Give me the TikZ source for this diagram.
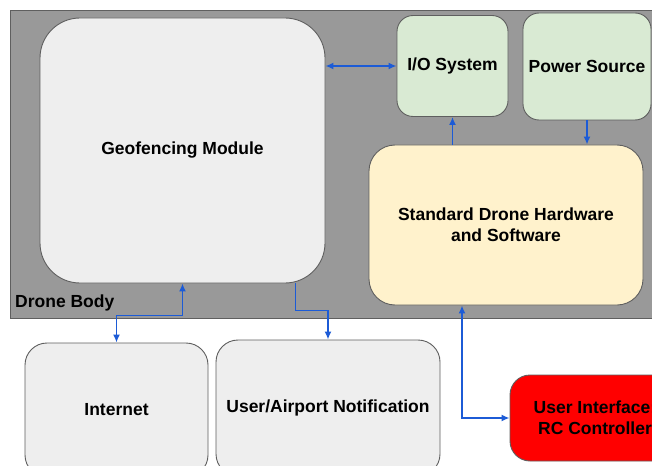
\documentclass[tikz,border=0pt]{standalone}
\usepackage{fontspec}
\setmainfont{Liberation Sans}
\usetikzlibrary{arrows.meta}
\definecolor{bodygrey}{HTML}{999999}
\definecolor{boxgrey}{HTML}{EEEEEE}
\definecolor{boxgreen}{HTML}{D9EAD3}
\definecolor{boxyellow}{HTML}{FFF2CC}
\definecolor{edgegrey}{HTML}{5F5F5F}
\definecolor{linkblue}{HTML}{1C5BD6}
\tikzset{
  blk/.style={draw=edgegrey, line width=0.9pt, align=center, inner sep=0pt,
    font=\fontsize{17.5}{21}\selectfont\bfseries},
  link/.style={draw=linkblue, line width=1.8pt},
  tip/.style={-{Latex[length=8pt,width=7pt]}},
  tips/.style={{Latex[length=8pt,width=7pt]}-{Latex[length=8pt,width=7pt]}},
}
\begin{document}
\begin{tikzpicture}[x=1pt,y=-1pt]
\useasboundingbox (0,0) rectangle (652,465);
\clip (0,0) rectangle (652,465);
\fill[white] (0,0) rectangle (652,465);
% drone body
\node[draw=edgegrey, fill=bodygrey, line width=0.9pt, minimum width=700pt, minimum height=308pt, inner sep=0pt, anchor=north west] (body) at (10,10) {};
\node[anchor=west, inner sep=0pt, font=\fontsize{17.5}{21}\selectfont\bfseries] (bodylabel) at (15,303) {Drone Body};
% blocks
\node[blk, fill=boxgrey, rounded corners=40pt, minimum width=285pt, minimum height=265pt] (geo) at (182.5,150.5) {Geofencing Module};
\node[blk, fill=boxgreen, rounded corners=16pt, minimum width=111pt, minimum height=101pt] (io) at (452.5,66) {I/O System};
\node[blk, fill=boxgreen, rounded corners=16pt, minimum width=128pt, minimum height=107pt] (power) at (587,66.5) {Power Source};
\node[blk, fill=boxyellow, rounded corners=26pt, minimum width=274pt, minimum height=160pt] (std) at (506,225) {Standard Drone Hardware\\and Software};
\node[blk, fill=boxgrey, rounded corners=22pt, minimum width=183pt, minimum height=134pt] (inet) at (116.5,410) {Internet};
\node[blk, fill=boxgrey, rounded corners=22pt, minimum width=224pt, minimum height=136pt] (notif) at (328,408) {User/Airport Notification};
\node[blk, fill=red, rounded corners=20pt, minimum width=170pt, minimum height=86pt] (rc) at (595,418) {User Interface:\\RC Controller};
% connectors
\draw[link, tips] (geo.east |- io.west) -- (io.west);
\draw[link, tip] (io.south |- std.north) -- (io.south);
\draw[link, tip] (power.south) -- (power.south |- std.north);
\draw[link, tips] (geo.south) -- ++(0,32) -| (inet.north);
\draw[link, tip] ([xshift=-30pt]geo.south east) -- ++(0,27) -| (notif.north);
\draw[link, tips] ([xshift=-44pt]std.south) |- (rc.west);
\end{tikzpicture}
\end{document}
